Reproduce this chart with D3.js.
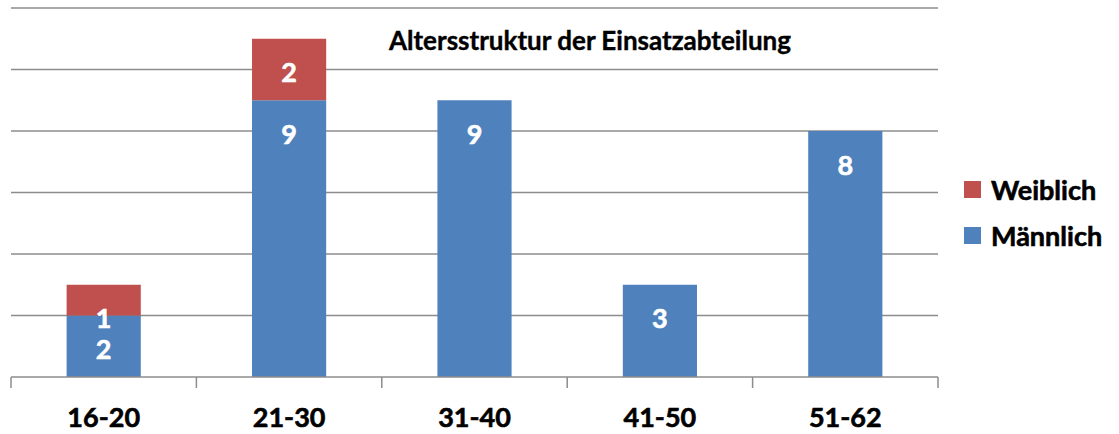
<!DOCTYPE html>
<html>
<head>
<meta charset="utf-8">
<script src="https://cdn.jsdelivr.net/npm/d3@7"></script>
<style>
  body { margin: 0; background: #fff; }
  svg text { font-family: Lato, "Open Sans", sans-serif; font-weight: bold; }
</style>
</head>
<body>
<div id="chart"></div>
<script>
// data
var categories = ["16-20", "21-30", "31-40", "41-50", "51-62"];
var maennlich = [2, 9, 9, 3, 8];
var weiblich = [1, 2, 0, 0, 0];
var seriesNames = ["Männlich", "Weiblich"];
var yTicks = [0, 2, 4, 6, 8, 10, 12];

var w = 1119, h = 434;
var plot = { left: 11, right: 938, top: 8, bottom: 377 };

var colors = { "Männlich": "#4F81BD", "Weiblich": "#C0504D" };

var svg = d3.select("#chart").append("svg")
    .attr("width", w)
    .attr("height", h);

var x = d3.scaleBand()
    .domain(categories)
    .range([plot.left, plot.right])
    .paddingInner(0.6)
    .paddingOuter(0.3);

var y = d3.scaleLinear()
    .domain([0, 12])
    .range([plot.bottom, plot.top]);

// gridlines
svg.append("g")
    .selectAll("line")
    .data(yTicks.slice(1))
    .enter()
    .append("line")
    .attr("x1", plot.left)
    .attr("x2", plot.right)
    .attr("y1", function(d) { return y(d); })
    .attr("y2", function(d) { return y(d); })
    .attr("stroke", "#8c8c8c")
    .attr("stroke-width", 1.5);

// stacked data
var rows = categories.map(function(c, i) {
    return { cat: c, "Männlich": maennlich[i], "Weiblich": weiblich[i] };
});
var stack = d3.stack().keys(seriesNames)(rows);

stack.forEach(function(layer) {
    var g = svg.append("g");
    var segs = layer.filter(function(d) { return d[1] - d[0] > 0; });
    g.selectAll("rect")
        .data(segs)
        .enter()
        .append("rect")
        .attr("x", function(d) { return x(d.data.cat); })
        .attr("width", x.bandwidth())
        .attr("y", function(d) { return y(d[1]); })
        .attr("height", function(d) { return y(d[0]) - y(d[1]); })
        .attr("fill", colors[layer.key]);

    // labels near the top of each segment
    g.selectAll("text")
        .data(segs)
        .enter()
        .append("text")
        .attr("x", function(d) { return x(d.data.cat) + x.bandwidth() / 2; })
        .attr("y", function(d) { return y(d[1]) + 33; })
        .attr("text-anchor", "middle")
        .attr("dominant-baseline", "central")
        .style("font-size", "27px")
        .attr("fill", "#fff")
        .attr("stroke", "#fff")
        .attr("stroke-width", 0.6)
        .text(function(d) { return d[1] - d[0]; });
});

// x axis line
svg.append("line")
    .attr("x1", plot.left)
    .attr("x2", plot.right)
    .attr("y1", y(0))
    .attr("y2", y(0))
    .attr("stroke", "#8c8c8c")
    .attr("stroke-width", 1.5);

// category separators
var gap = (x.step() - x.bandwidth()) / 2;
var edges = [plot.left].concat(categories.map(function(c) { return x(c) + x.bandwidth() + gap; }));
edges[edges.length - 1] = plot.right;
svg.append("g")
    .selectAll("line")
    .data(edges)
    .enter()
    .append("line")
    .attr("x1", function(d) { return d; })
    .attr("x2", function(d) { return d; })
    .attr("y1", plot.bottom)
    .attr("y2", plot.bottom + 11)
    .attr("stroke", "#8c8c8c")
    .attr("stroke-width", 1.5);

svg.append("g")
    .selectAll("text")
    .data(categories)
    .enter()
    .append("text")
    .attr("x", function(d) { return x(d) + x.bandwidth() / 2; })
    .attr("y", 427)
    .attr("text-anchor", "middle")
    .style("font-size", "27px")
    .attr("fill", "#000")
    .attr("stroke", "#000")
    .attr("stroke-width", 0.6)
    .text(function(d) { return d; });

// title
svg.append("text")
    .attr("x", 590)
    .attr("y", 50)
    .attr("text-anchor", "middle")
    .style("font-size", "26px")
    .attr("fill", "#000")
    .attr("stroke", "#000")
    .attr("stroke-width", 0.4)
    .text("Altersstruktur der Einsatzabteilung");

// legend
var legend = ["Weiblich", "Männlich"];
legend.forEach(function(k, i) {
    var ly = 189 + i * 46;
    svg.append("rect")
        .attr("x", 964)
        .attr("y", ly - 8)
        .attr("width", 17)
        .attr("height", 17)
        .attr("fill", colors[k]);
    svg.append("text")
        .attr("x", 991)
        .attr("y", ly)
        .attr("dominant-baseline", "central")
        .style("font-size", "27px")
        .attr("fill", "#000")
        .attr("stroke", "#000")
        .attr("stroke-width", 0.6)
        .text(k);
});
</script>
</body>
</html>
